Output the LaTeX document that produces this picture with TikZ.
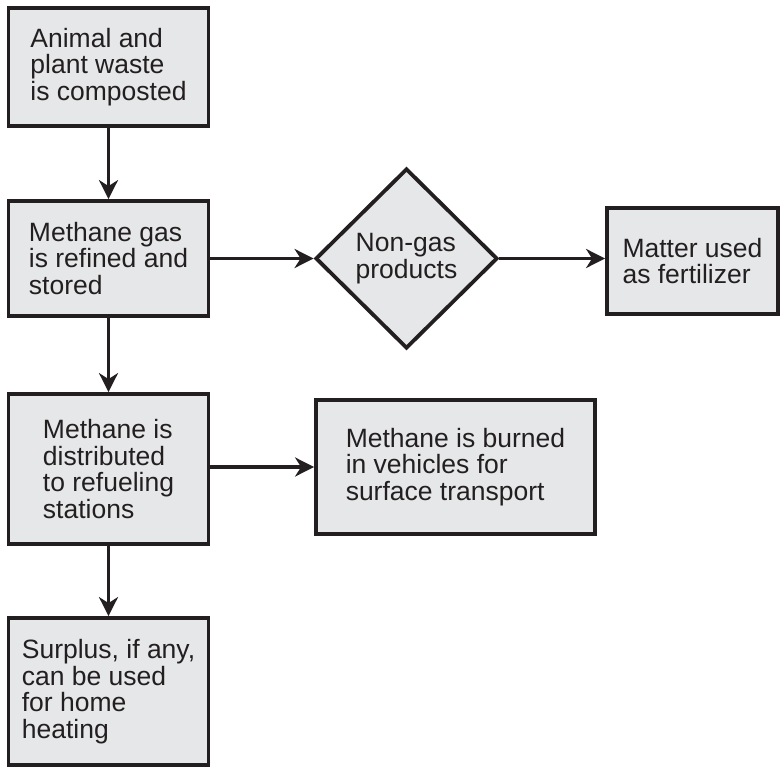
\documentclass[tikz,border=0pt]{standalone}
\usepackage{fontspec}
\setmainfont{Liberation Sans}
\usetikzlibrary{arrows.meta,shapes.geometric}

\definecolor{boxgray}{HTML}{E6E7E8}
\definecolor{inkblack}{HTML}{231F20}

\begin{document}
\begin{tikzpicture}[
    x=1pt, y=-1pt,
    font=\fontsize{26.5pt}{26.5pt}\selectfont,
    stepbox/.style={
      draw=inkblack,fill=boxgray,line width=3.8pt,text=inkblack,
      rectangle,align=left,inner sep=0pt
    },
    decision/.style={
      draw=inkblack,fill=boxgray,line width=3.8pt,text=inkblack,
      diamond,align=left,inner sep=0pt,
      minimum width=182pt,minimum height=180pt
    },
    flow/.style={
      -{Stealth[length=19pt,width=19pt,inset=6pt]},
      line width=3.5pt,draw=inkblack
    }
  ]
  \useasboundingbox (0,0) rectangle (781,767);

  \node (waste) [stepbox,minimum width=200pt,minimum height=118pt]
    at (108.5,67) {Animal and\\plant waste\\is composted};
  \node (refine) [stepbox,minimum width=200pt,minimum height=115pt]
    at (108.5,258.5) {Methane gas\\is refined and\\stored};
  \node (nongas) [decision] at (406.5,258.5) {Non-gas\\products};
  \node (fertil) [stepbox,minimum width=171pt,minimum height=106pt]
    at (692.5,261) {Matter used\\as fertilizer};
  \node (distrib) [stepbox,minimum width=200pt,minimum height=150pt]
    at (108.5,469) {Methane is\\distributed\\to refueling\\stations};
  \node (vehicles) [stepbox,minimum width=279pt,minimum height=134pt]
    at (455.5,467) {Methane is burned\\in vehicles for\\surface transport};
  \node (surplus) [stepbox,minimum width=200pt,minimum height=147pt]
    at (108.5,691.5) {Surplus, if any,\\can be used\\for home\\heating};

  % draw edges
  \foreach \a/\b in {waste/refine,refine/nongas,refine/distrib,distrib/surplus} {
    \draw [flow] (\a) -- (\b);
  }
  \draw [flow] (nongas.east) -- (nongas.east -| fertil.west);
  \draw [flow] (distrib.east |- vehicles) -- (vehicles);
\end{tikzpicture}
\end{document}
